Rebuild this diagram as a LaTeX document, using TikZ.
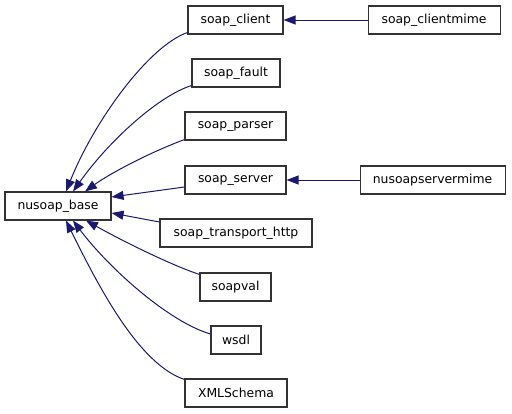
\documentclass[tikz,border=0pt]{standalone}
\usepackage{fontspec}
\setmainfont{DejaVu Sans}
\usetikzlibrary{arrows.meta, positioning}
\definecolor{edgeblue}{RGB}{25,25,112}

\begin{document}
\begin{tikzpicture}[
  x=1pt, y=-1pt,
  cls/.style={draw=black!80, line width=1.1pt, fill=white, minimum height=28pt, inner sep=0pt, font=\fontsize{12.4}{14}\selectfont},
  inh/.style={draw=edgeblue, line width=1pt, -{Triangle[length=12pt,width=9pt]}, edgeblue}
]
\useasboundingbox (0,0) rectangle (512,413);

\node[cls, minimum width=106pt] (base) at (58,206) {nusoap\_base};
\node[cls, minimum width=95pt] (client) at (235.5,20) {soap\_client};
\node[cls, minimum width=132pt, right=84pt of client] (clientmime) {soap\_clientmime};
\node[cls, minimum width=88pt] (fault) at (236,73) {soap\_fault};
\node[cls, minimum width=101pt] (parser) at (235.5,126) {soap\_parser};
\node[cls, minimum width=101pt] (server) at (235.5,180) {soap\_server};
\node[cls, minimum width=145pt, right=73pt of server] (servermime) {nusoapservermime};
\node[cls, minimum width=152pt] (transport) at (236,233) {soap\_transport\_http};
\node[cls, minimum width=71pt] (soapval) at (235.5,287) {soapval};
\node[cls, minimum width=50pt] (wsdl) at (236,340) {wsdl};
\node[cls, minimum width=102pt] (xmlschema) at (236,393) {XMLSchema};

\draw[inh] (clientmime) -- (client);
\draw[inh] (servermime) -- (server);
\draw[inh] ([yshift=2pt]client.south west) .. controls +(-38,13) and +(29,-72) .. ([xshift=8pt]base.north);
\draw[inh] ([yshift=2pt]fault.south west) .. controls +(-32,10) and +(37,-52) .. ([xshift=15pt]base.north);
\draw[inh] ([yshift=1pt]parser.south west) .. controls +(-35,13) and +(25,-18) .. ([xshift=27pt]base.north);
\draw[inh] ([yshift=-7pt]server.west) -- ([yshift=9pt]base.east);
\draw[inh] ([yshift=11pt]transport.west) -- ([yshift=-7pt]base.east);
\draw[inh] ([yshift=-2pt]soapval.north west) .. controls +(-30,-10) and +(34,19) .. ([xshift=28pt]base.south);
\draw[inh] ([yshift=6pt]wsdl.west) .. controls +(-41,-12) and +(37,49) .. ([xshift=15pt]base.south);
\draw[inh] ([yshift=-1pt]xmlschema.north west) .. controls +(-45,-15) and +(34,69) .. ([xshift=8pt]base.south);
\end{tikzpicture}
\end{document}
